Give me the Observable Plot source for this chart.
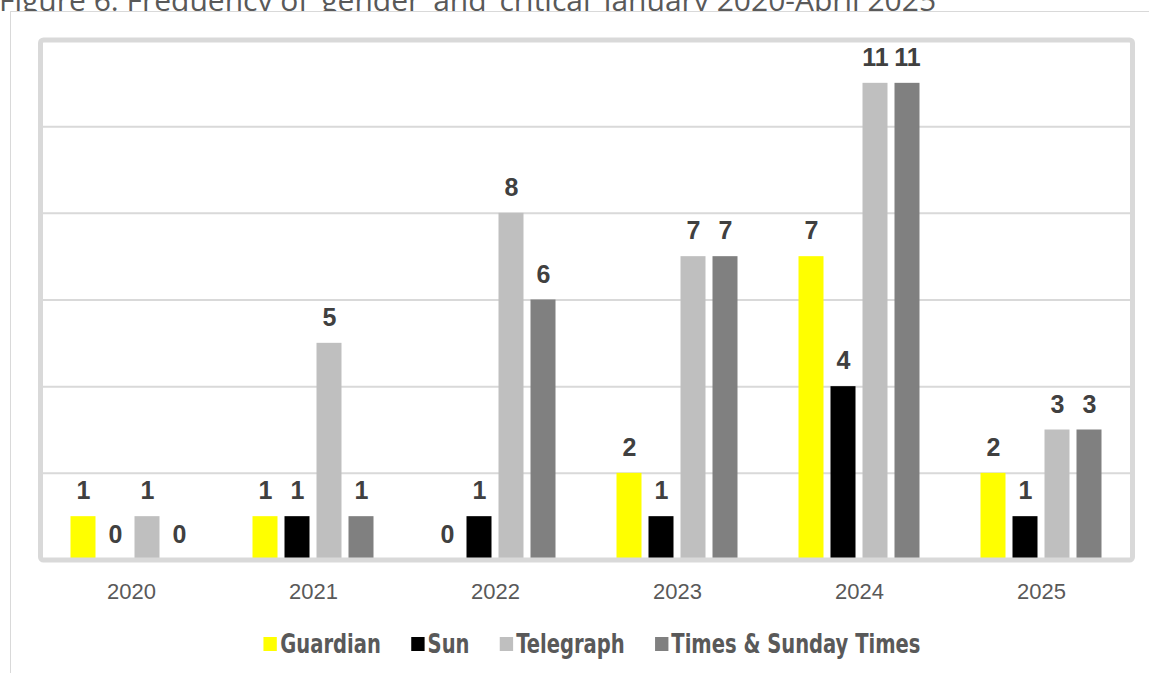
<!DOCTYPE html>
<html>
<head>
<meta charset="utf-8">
<script src="https://cdn.jsdelivr.net/npm/d3@7"></script>
<script src="https://cdn.jsdelivr.net/npm/@observablehq/plot@0.6"></script>
<style>
  html, body { margin: 0; padding: 0; background: #fff; }
  #wrap { position: relative; width: 1149px; height: 673px; overflow: hidden; background: #fff; }
  #title { position: absolute; left: -1px; top: -15px; font: 30px "Open Sans", "Liberation Sans", sans-serif; color: #595959; white-space: nowrap; line-height: 30px; }
  #outer { position: absolute; left: 10px; top: 11px; width: 1200px; height: 700px; border-left: 1px solid #d9d9d9; border-top: 1px solid #d9d9d9; background: #fff; }
  #chart { position: absolute; left: 0; top: 0; }
  #legend { position: absolute; left: 39px; width: 1093px; top: 628px; display: flex; justify-content: center; gap: 36px;
            font: bold 26px "Liberation Sans Narrow", "DejaVu Sans Condensed", "Liberation Sans", sans-serif; font-stretch: condensed; color: #595959;
            transform: scaleX(0.835); transform-origin: 586px 0; }
  #legend .item { display: flex; align-items: center; gap: 4px; line-height: 32px; }
  #legend .sw { width: 16px; height: 14px; display: inline-block; }
</style>
</head>
<body>
<div id="wrap">
  <div id="title">Figure 6: Frequency of ‘gender’ and ‘critical’ January 2020-April 2025</div>
  <div id="outer"></div>
  <div id="chart"></div>
  <div id="legend"></div>
</div>
<script>
const years = ["2020", "2021", "2022", "2023", "2024", "2025"];
const papers = ["Guardian", "Sun", "Telegraph", "Times & Sunday Times"];
const colors = ["#FFFF00", "#000000", "#BFBFBF", "#808080"];
const guardian = [1, 1, 0, 2, 7, 2];
const sun = [0, 1, 1, 1, 4, 1];
const telegraph = [1, 5, 8, 7, 11, 3];
const times = [0, 1, 6, 7, 11, 3];
const gridTicks = [2, 4, 6, 8, 10];

const series = [guardian, sun, telegraph, times];
const data = [];
years.forEach((y, i) => papers.forEach((p, j) => data.push({year: y, paper: p, value: series[j][i]})));

const chart = Plot.plot({
  width: 1149,
  height: 673,
  marginTop: 39.5,
  marginBottom: 113.5,
  marginLeft: 39.5,
  marginRight: 17,
  style: {fontFamily: "'Liberation Sans', Arial, sans-serif", background: "transparent", overflow: "visible"},
  fx: {domain: years, padding: 0, label: null},
  x: {domain: papers, paddingInner: 0.212, paddingOuter: 0.865, axis: null},
  y: {domain: [0, 12], axis: null},
  color: {domain: papers, range: colors},
  marks: [
    Plot.ruleY(gridTicks, {stroke: "#d9d9d9", strokeWidth: 2}),
    Plot.barY(data, {fx: "year", x: "paper", y: "value", fill: "paper"}),
    Plot.text(data, {fx: "year", x: "paper", y: "value", text: d => String(d.value), dy: -25.5,
      fontSize: 25, fontWeight: "bold", fill: "#404040"}),
    Plot.axisFx({anchor: "bottom", tickSize: 0, tickPadding: 23, fontSize: 22, color: "#595959", label: null}),
    Plot.frame({stroke: "#d9d9d9", strokeWidth: 5, rx: 3, facet: "super"})
  ]
});
document.getElementById("chart").appendChild(chart);

const legend = document.getElementById("legend");
papers.forEach((p, j) => {
  const it = document.createElement("div");
  it.className = "item";
  const sw = document.createElement("span");
  sw.className = "sw";
  sw.style.background = colors[j];
  const t = document.createElement("span");
  t.textContent = p;
  it.appendChild(sw);
  it.appendChild(t);
  legend.appendChild(it);
});
</script>
</body>
</html>
